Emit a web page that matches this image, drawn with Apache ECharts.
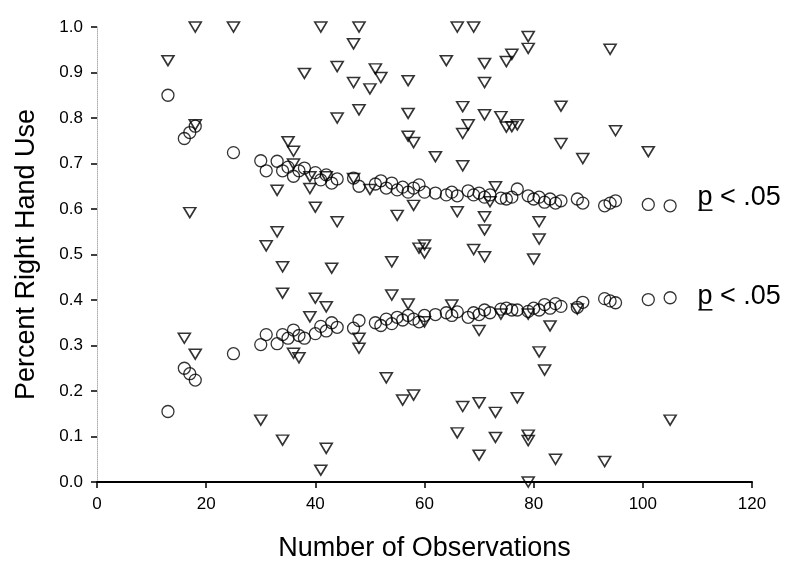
<!DOCTYPE html>
<html>
<head>
<meta charset="utf-8">
<script src="https://cdn.jsdelivr.net/npm/echarts@6/dist/echarts.min.js"></script>
<style>
html,body{margin:0;padding:0;background:#fff;}
#chart{width:800px;height:569px;}
</style>
</head>
<body>
<div id="chart"></div>
<script>
// Critical-value circles (number of observations -> threshold proportion)
const circleN = [13,16,17,18,25,30,31,33,34,35,36,37,38,40,41,42,43,44,47,48,51,52,53,54,55,56,57,58,59,60,62,64,65,66,68,69,70,71,72,74,75,76,77,79,80,81,82,83,84,85,88,89,93,94,95,101,105];
const upperCrit = [0.85,0.755,0.768,0.782,0.724,0.706,0.684,0.705,0.684,0.692,0.672,0.684,0.69,0.68,0.664,0.675,0.657,0.666,0.668,0.65,0.655,0.662,0.646,0.657,0.642,0.648,0.637,0.646,0.653,0.637,0.635,0.631,0.637,0.629,0.64,0.631,0.635,0.626,0.631,0.624,0.622,0.626,0.644,0.629,0.622,0.626,0.615,0.622,0.613,0.618,0.622,0.613,0.607,0.613,0.618,0.61,0.607];
const lowerCrit = [0.155,0.25,0.238,0.224,0.282,0.302,0.324,0.304,0.324,0.316,0.334,0.322,0.316,0.326,0.342,0.332,0.35,0.34,0.338,0.355,0.35,0.344,0.358,0.348,0.362,0.356,0.366,0.358,0.352,0.366,0.368,0.372,0.366,0.374,0.362,0.372,0.368,0.378,0.372,0.38,0.382,0.378,0.378,0.375,0.382,0.378,0.39,0.382,0.392,0.386,0.384,0.395,0.403,0.398,0.394,0.401,0.405];

// Individual subjects (number of observations, proportion right hand use)
const subjN = [13,18,25,41,48,66,69,38,47,44,51,52,47,50,57,64,71,71,75,76,79,79,48,44,57,67,71,74,68,67,75,76,77,57,58,62,67,85,94,95,85,89,101,18,35,36,36,
  17,33,39,40,33,31,34,34,40,42,39,43,39,42,47,50,73,72,58,55,66,71,71,81,81,44,59,60,60,69,71,80,54,54,57,60,65,74,79,83,70,88,
  16,18,36,37,30,34,42,41,48,48,81,82,53,56,58,67,70,73,77,66,73,79,79,70,84,79,105,93];
const subjP = [0.926,1.0,1.0,1.0,1.0,1.0,1.0,0.898,0.963,0.913,0.908,0.889,0.878,0.864,0.882,0.926,0.92,0.878,0.924,0.94,0.979,0.953,0.818,0.80,0.81,0.825,0.807,0.803,0.785,0.766,0.78,0.781,0.785,0.76,0.746,0.715,0.695,0.826,0.951,0.772,0.744,0.711,0.726,0.785,0.748,0.727,0.699,
  0.592,0.641,0.645,0.604,0.55,0.519,0.473,0.415,0.404,0.385,0.363,0.47,0.671,0.671,0.667,0.643,0.649,0.616,0.608,0.586,0.594,0.583,0.554,0.572,0.534,0.572,0.514,0.521,0.503,0.511,0.495,0.49,0.484,0.411,0.391,0.352,0.389,0.369,0.369,0.343,0.333,0.38,
  0.316,0.281,0.283,0.273,0.136,0.092,0.074,0.026,0.316,0.294,0.286,0.246,0.229,0.18,0.191,0.166,0.174,0.153,0.185,0.108,0.098,0.103,0.091,0.059,0.05,0.0,0.136,0.045];

const xTicks = [0,20,40,60,80,100,120];
const annotText = 'p < .05';
const annotX = [110, 110];
const annotY = [0.626, 0.407];

const FONT = '"Liberation Sans", Arial, Helvetica, sans-serif';

const chart = echarts.init(document.getElementById('chart'), null, {renderer:'canvas'});

const circleData = circleN.map((n,i)=>[n, upperCrit[i]]).concat(circleN.map((n,i)=>[n, lowerCrit[i]]));
const triData = subjN.map((n,i)=>[n, subjP[i]]);

chart.setOption({
  backgroundColor:'#fff',
  animation:false,
  grid:{left:97,right:48,top:27,bottom:87,containLabel:false},
  xAxis:{
    type:'value', min:xTicks[0], max:xTicks[xTicks.length-1], interval:20,
    name:'Number of Observations', nameLocation:'middle', nameGap:53,
    nameTextStyle:{fontSize:27,color:'#000',fontFamily:FONT},
    axisLine:{show:true,lineStyle:{color:'#000',width:2}},
    axisTick:{show:true,length:6,inside:false,lineStyle:{color:'#000',width:1.5}},
    axisLabel:{margin:14,fontSize:17,color:'#000',fontFamily:FONT},
    splitLine:{show:false}
  },
  yAxis:{
    type:'value', min:0, max:1, interval:0.1,
    name:'Percent Right Hand Use', nameLocation:'middle', nameGap:57,
    nameTextStyle:{fontSize:27,color:'#000',fontFamily:FONT},
    axisLine:{show:true,lineStyle:{color:'#b0b0b0',width:1,type:'dotted'}},
    axisTick:{show:true,length:6,inside:false,lineStyle:{color:'#000',width:1.5}},
    axisLabel:{margin:14,fontSize:17,color:'#000',fontFamily:FONT,formatter:v=>v.toFixed(1)},
    splitLine:{show:false}
  },
  series:[
    {
      type:'scatter', data:circleData, symbol:'circle', symbolSize:12, clip:false,
      itemStyle:{color:'rgba(0,0,0,0)',borderColor:'#000',borderWidth:1.3}
    },
    {
      type:'scatter', data:triData, symbol:'triangle', symbolRotate:180, symbolSize:[12,10], clip:false,
      itemStyle:{color:'rgba(0,0,0,0)',borderColor:'#000',borderWidth:1.6}
    }
  ]
});

// Annotation labels positioned from data coordinates
const graphics = [];
annotX.forEach((ax,i)=>{
  const p = chart.convertToPixel({gridIndex:0},[ax, annotY[i]]);
  graphics.push({
    type:'text', x:p[0], y:p[1],
    style:{text:annotText, font:'27px '+FONT, fill:'#000', verticalAlign:'middle', align:'left'}
  });
  graphics.push({
    type:'line', shape:{x1:p[0]+1, y1:p[1]+13, x2:p[0]+15, y2:p[1]+13},
    style:{stroke:'#000', lineWidth:1.5}
  });
});
chart.setOption({graphic:graphics});
</script>
</body>
</html>
